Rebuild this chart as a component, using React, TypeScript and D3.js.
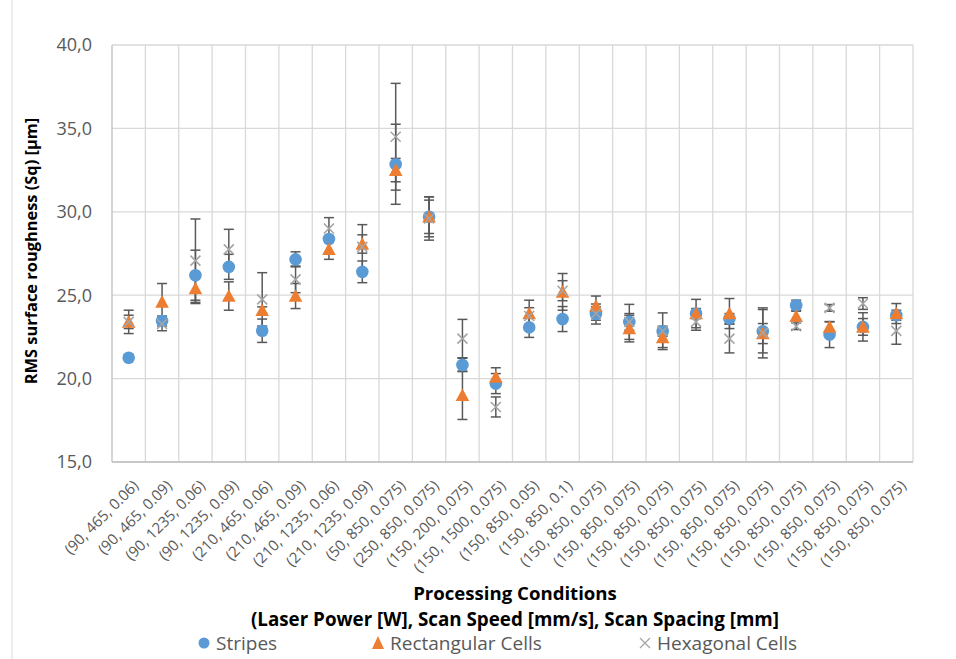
import React from "react";
import * as d3 from "d3";

const W = 956;
const H = 659;
const MARGIN = { top: 45, right: 43, bottom: 197, left: 112 };

const categories = [
  "(90, 465, 0.06)", "(90, 465, 0.09)", "(90, 1235, 0.06)", "(90, 1235, 0.09)",
  "(210, 465, 0.06)", "(210, 465, 0.09)", "(210, 1235, 0.06)", "(210, 1235, 0.09)",
  "(50, 850, 0.075)", "(250, 850, 0.075)", "(150, 200, 0.075)", "(150, 1500, 0.075)",
  "(150, 850, 0.05)", "(150, 850, 0.1)", "(150, 850, 0.075)", "(150, 850, 0.075)",
  "(150, 850, 0.075)", "(150, 850, 0.075)", "(150, 850, 0.075)", "(150, 850, 0.075)",
  "(150, 850, 0.075)", "(150, 850, 0.075)", "(150, 850, 0.075)", "(150, 850, 0.075)",
];

const stripes = [21.25, 23.45, 26.2, 26.7, 22.87, 27.15, 28.37, 26.4, 32.85, 29.7, 20.82, 19.7,
  23.07, 23.57, 23.87, 23.4, 22.84, 23.9, 23.6, 22.84, 24.4, 22.64, 23.1, 23.8];
const stripesErr = [0.15, 0.3, 1.5, 0.75, 0.7, 0.45, 0.2, 0.65, 2.4, 1.2, 0.4, 0.6,
  0.6, 0.75, 0.6, 0.5, 0.3, 0.3, 0.3, 1.3, 0.3, 0.78, 0.85, 0.3];

const rectangular = [23.4, 24.6, 25.4, 24.95, 24.1, 24.95, 27.75, 28.07, 32.5, 29.7, 19.0, 20.1,
  23.9, 25.2, 24.35, 23.0, 22.46, 23.9, 23.9, 22.7, 23.74, 23.1, 23.1, 23.9];
const rectangularErr = [0.7, 1.1, 0.9, 0.85, 0.2, 0.75, 0.6, 0.55, 0.7, 1.0, 1.45, 0.55,
  0.8, 1.1, 0.6, 0.8, 0.6, 0.85, 0.9, 0.6, 0.3, 0.3, 0.5, 0.6];

const hexagonal = [23.4, 23.27, 27.07, 27.75, 24.75, 25.95, 29.0, 27.9, 34.5, 29.6, 22.4, 18.3,
  23.75, 25.27, 23.9, 23.4, 22.84, 23.4, 22.4, 22.74, 23.14, 24.24, 24.5, 22.86];
const hexagonalErr = [0.4, 0.4, 2.5, 1.2, 1.6, 0.8, 0.65, 1.33, 3.2, 1.3, 1.15, 0.6,
  0.5, 0.6, 0.4, 1.05, 1.1, 0.5, 0.86, 1.5, 0.2, 0.2, 0.35, 0.8];

const yTicks = [15, 20, 25, 30, 35, 40];

const BLUE = "#5b9bd5";
const ORANGE = "#ed7d31";
const GRAY = "#a5a5a5";
const TEXT = "#595959";
const FONT = "'Open Sans', sans-serif";

const series = [
  { name: "Stripes", values: stripes, err: stripesErr, color: BLUE, shape: "circle", lx: 204 },
  { name: "Rectangular Cells", values: rectangular, err: rectangularErr, color: ORANGE, shape: "triangle", lx: 378 },
  { name: "Hexagonal Cells", values: hexagonal, err: hexagonalErr, color: GRAY, shape: "x", lx: 645 },
];

const Marker = ({ shape, x, y, color }: { shape: string; x: number; y: number; color: string }) => {
  if (shape === "circle") return <circle cx={x} cy={y} r={6.3} fill={color} />;
  if (shape === "triangle") {
    const s = 6.8;
    return <path d={`M${x},${y - s}L${x + s},${y + s * 0.85}L${x - s},${y + s * 0.85}Z`} fill={color} />;
  }
  const s = 5;
  return (
    <path d={`M${x - s},${y - s}L${x + s},${y + s}M${x - s},${y + s}L${x + s},${y - s}`}
      stroke={color} strokeWidth={1.6} fill="none" />
  );
};

const App = () => {
  const boundsWidth = W - MARGIN.left - MARGIN.right;
  const boundsHeight = H - MARGIN.top - MARGIN.bottom;

  const xScale = d3.scaleBand().domain(categories.map((_, i) => String(i))).range([0, boundsWidth]);
  const yScale = d3.scaleLinear().domain([15, 40]).range([boundsHeight, 0]);
  const bw = xScale.bandwidth();
  const cx = (i: number) => (xScale(String(i)) || 0) + bw / 2;

  return (
    <svg width={W} height={H} style={{ position: "absolute", left: 0, top: 0, fontFamily: FONT }}>
      <rect width={W} height={H} fill="white" />
      <line x1={12} x2={12} y1={0} y2={H} stroke="#d9d9d9" />
      <g transform={`translate(${MARGIN.left},${MARGIN.top})`}>
        {yTicks.map((t) => (
          <line key={t} x1={0} x2={boundsWidth} y1={yScale(t)} y2={yScale(t)} stroke="#d9d9d9" strokeWidth={1.3} />
        ))}
        {categories.map((_, i) => (
          <line key={i} x1={(xScale(String(i)) || 0) + bw} x2={(xScale(String(i)) || 0) + bw}
            y1={0} y2={boundsHeight} stroke="#d9d9d9" strokeWidth={1.3} />
        ))}
        <line x1={0} x2={0} y1={0} y2={boundsHeight} stroke="#bfbfbf" strokeWidth={1.3} />
        <line x1={0} x2={boundsWidth} y1={boundsHeight} y2={boundsHeight} stroke="#bfbfbf" strokeWidth={1.3} />

        {yTicks.map((t) => (
          <text key={t} x={-20} y={yScale(t)} dy="0.35em" textAnchor="end" fontSize={18} fill={TEXT}>
            {d3.format(".1f")(t).replace(".", ",")}
          </text>
        ))}
        {categories.map((c, i) => (
          <text key={i} transform={`translate(${cx(i) + 7},${boundsHeight + 21}) rotate(-45)`}
            textAnchor="end" dy="0.35em" fontSize={15} fill={TEXT}>
            {c}
          </text>
        ))}

        {series.map((s) => (
          <g key={s.name + "err"} stroke="#595959" strokeWidth={1.5}>
            {s.values.map((v, i) => {
              const x = cx(i);
              const y0 = yScale(v - s.err[i]);
              const y1 = yScale(v + s.err[i]);
              return (
                <g key={i}>
                  <line x1={x} x2={x} y1={y0} y2={y1} />
                  <line x1={x - 5} x2={x + 5} y1={y0} y2={y0} />
                  <line x1={x - 5} x2={x + 5} y1={y1} y2={y1} />
                </g>
              );
            })}
          </g>
        ))}
        {series.map((s) => (
          <g key={s.name}>
            {s.values.map((v, i) => (
              <Marker key={i} shape={s.shape} x={cx(i)} y={yScale(v)} color={s.color} />
            ))}
          </g>
        ))}
      </g>

      <text x={31} y={251} transform="rotate(-90,31,251)" textAnchor="middle" dy="0.35em"
        fontSize={16.4} fontWeight="bold" fill="black">
        RMS surface roughness (Sq) [µm]
      </text>
      <text x={515} y={593} textAnchor="middle" dy="0.35em" fontSize={18.6} fontWeight="bold" fill="black">
        Processing Conditions
      </text>
      <text x={515} y={619} textAnchor="middle" dy="0.35em" fontSize={18.8} fontWeight="bold" fill="black">
        (Laser Power [W], Scan Speed [mm/s], Scan Spacing [mm]
      </text>

      {series.map((s) => {
        const lx = s.lx;
        return (
          <g key={s.name}>
            {s.shape === "circle" && <circle cx={lx} cy={643} r={5.5} fill={s.color} />}
            {s.shape === "triangle" && <path d={`M${lx},${636}L${lx + 6},${649}L${lx - 6},${649}Z`} fill={s.color} />}
            {s.shape === "x" && (
              <path d={`M${lx - 5},${638}L${lx + 5},${648}M${lx - 5},${648}L${lx + 5},${638}`}
                stroke={s.color} strokeWidth={1.3} />
            )}
            <text x={lx + 12} y={643} dy="0.35em" fontSize={19} fill={TEXT}>{s.name}</text>
          </g>
        );
      })}
    </svg>
  );
};

export default App;
